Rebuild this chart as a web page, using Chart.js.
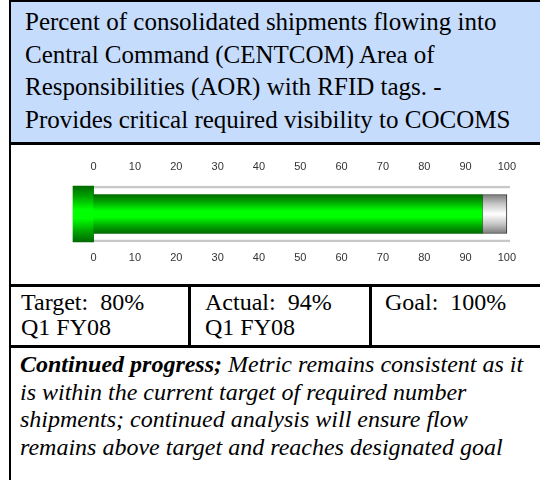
<!DOCTYPE html>
<html>
<head>
<meta charset="utf-8">
<script src="https://cdn.jsdelivr.net/npm/chart.js"></script>
<style>
  body { margin: 0; background: #fff; width: 540px; height: 480px; overflow: hidden; position: relative; }
  .box { position: absolute; box-sizing: border-box; color: #000; }
  .rule { position: absolute; background: #000; }
</style>
</head>
<body>
  <!-- outer frame -->
  <div class="rule" style="left:9px; top:0; width:2px; height:480px;"></div>
  <div class="rule" style="left:9px; top:0; width:531px; height:2px;"></div>

  <!-- title block -->
  <div class="box" id="title" style="font-family:'Liberation Serif'; left:11px; top:2px; width:529px; height:140px; background:#c6dcfc; padding:4px 0 0 14px; font-size:25px; line-height:32.7px;"></div>
  <div class="rule" style="left:9px; top:142px; width:531px; height:3px;"></div>

  <!-- chart -->
  <div class="box" style="left:11px; top:145px; width:529px; height:139px;">
    <canvas id="gauge"></canvas>
  </div>
  <div class="rule" style="left:9px; top:284px; width:531px; height:3px;"></div>

  <!-- target / actual / goal row -->
  <div class="box" id="cellTarget" style="font-family:'Liberation Serif'; left:11px; top:287px; width:177px; height:58px; padding:3px 0 0 10px; font-size:24px; line-height:25px; white-space:pre;"></div>
  <div class="rule" style="left:188px; top:287px; width:3px; height:58px;"></div>
  <div class="box" id="cellActual" style="font-family:'Liberation Serif'; left:191px; top:287px; width:178px; height:58px; padding:3px 0 0 14px; font-size:24px; line-height:25px; white-space:pre;"></div>
  <div class="rule" style="left:369px; top:287px; width:3px; height:58px;"></div>
  <div class="box" id="cellGoal" style="font-family:'Liberation Serif'; left:372px; top:287px; width:168px; height:58px; padding:3px 0 0 13px; font-size:24px; line-height:25px; white-space:pre;"></div>
  <div class="rule" style="left:9px; top:345px; width:531px; height:3px;"></div>

  <!-- commentary -->
  <div class="box" id="note" style="font-family:'Liberation Serif'; left:11px; top:348px; width:529px; height:132px; padding:3px 0 0 9px; font-size:24px; line-height:27.5px; font-style:italic; white-space:nowrap;"></div>

<script>
// text
const titleLines = [
  "Percent of consolidated shipments flowing into",
  "Central Command (CENTCOM) Area of",
  "Responsibilities (AOR) with RFID tags. -",
  "Provides critical required visibility to COCOMS"
];
const period = "Q1 FY08";
const noteLead = "Continued progress;";
const noteLines = [
  " Metric remains consistent as it",
  "is within the current target of required number",
  "shipments; continued analysis will ensure flow",
  "remains above target and reaches designated goal"
];

// values (percent)
const categories = ["RFID tagged shipments"];
const targetPct = [80];
const actualPct = [94];
const goalPct = [100];
const bulbRange = [[-5, 0]];      // thermometer bulb left of zero
const railRange = [[0, 100.75]];  // gray guide rails
const tickValues = [0, 10, 20, 30, 40, 50, 60, 70, 80, 90, 100];

document.getElementById("title").innerHTML = titleLines.join("<br>");
document.getElementById("cellTarget").textContent = "Target:  " + targetPct[0] + "%\n" + period;
document.getElementById("cellActual").textContent = "Actual:  " + actualPct[0] + "%\n" + period;
document.getElementById("cellGoal").textContent = "Goal:  " + goalPct[0] + "%";
document.getElementById("note").innerHTML =
  "<b>" + noteLead + "</b>" + noteLines[0] + "<br>" + noteLines.slice(1).join("<br>");

function vGrad(chart, thick, stops) {
  const area = chart.chartArea;
  if (!area) return stops[0][1];
  const yc = chart.scales.y.getPixelForValue(0);
  const g = chart.ctx.createLinearGradient(0, yc - thick / 2, 0, yc + thick / 2);
  stops.forEach(s => g.addColorStop(s[0], s[1]));
  return g;
}
const greenStops = [[0, "#006a00"], [0.2, "#00a800"], [0.42, "#00ff00"], [0.58, "#00ff00"], [0.8, "#00a800"], [1, "#006a00"]];
const grayStops = [[0, "#7c7c7c"], [0.25, "#c8c8c8"], [0.5, "#ffffff"], [0.75, "#c8c8c8"], [1, "#7c7c7c"]];

const axisTicks = (pad) => ({
  padding: pad,
  color: "#333",
  font: { family: "'Liberation Sans', Arial, sans-serif", size: 11 },
  autoSkip: false,
  maxRotation: 0
});

new Chart(document.getElementById("gauge"), {
  type: "bar",
  data: {
    labels: categories,
    datasets: [
      {
        label: "Actual",
        data: actualPct.map(v => [0, v]),
        backgroundColor: c => vGrad(c.chart, 39, greenStops),
        barThickness: 39,
        grouped: false,
        borderWidth: 0,
        order: 1
      },
      {
        label: "To goal",
        data: actualPct.map((v, i) => [v, goalPct[i]]),
        backgroundColor: c => vGrad(c.chart, 39, grayStops),
        borderColor: "#333",
        borderWidth: 1,
        borderSkipped: false,
        barThickness: 39,
        grouped: false,
        order: 2
      },
      {
        label: "Bulb",
        data: bulbRange,
        backgroundColor: c => vGrad(c.chart, 56, greenStops),
        barThickness: 56,
        grouped: false,
        borderWidth: 0,
        clip: false,
        order: 3
      },
      {
        label: "Rails",
        data: railRange,
        backgroundColor: "rgba(0,0,0,0)",
        borderColor: "#c8c8c8",
        borderWidth: { top: 2, bottom: 2, left: 0, right: 0 },
        borderSkipped: false,
        barThickness: 56,
        grouped: false,
        clip: false,
        order: 4
      }
    ]
  },
  options: {
    indexAxis: "y",
    responsive: true,
    maintainAspectRatio: false,
    animation: false,
    layout: { padding: { left: 62, right: 30, top: 3, bottom: 10 } },
    plugins: { legend: { display: false }, tooltip: { enabled: false } },
    scales: {
      y: { display: false },
      x: {
        position: "bottom",
        min: -5, max: 100.75,
        grid: { display: false, drawTicks: false },
        border: { display: false },
        ticks: axisTicks(9),
        afterBuildTicks: axis => { axis.ticks = tickValues.map(v => ({ value: v })); }
      },
      xTop: {
        axis: "x",
        position: "top",
        min: -5, max: 100.75,
        grid: { display: false, drawTicks: false },
        border: { display: false },
        ticks: axisTicks(12),
        afterBuildTicks: axis => { axis.ticks = tickValues.map(v => ({ value: v })); }
      }
    }
  }
});
</script>
</body>
</html>
